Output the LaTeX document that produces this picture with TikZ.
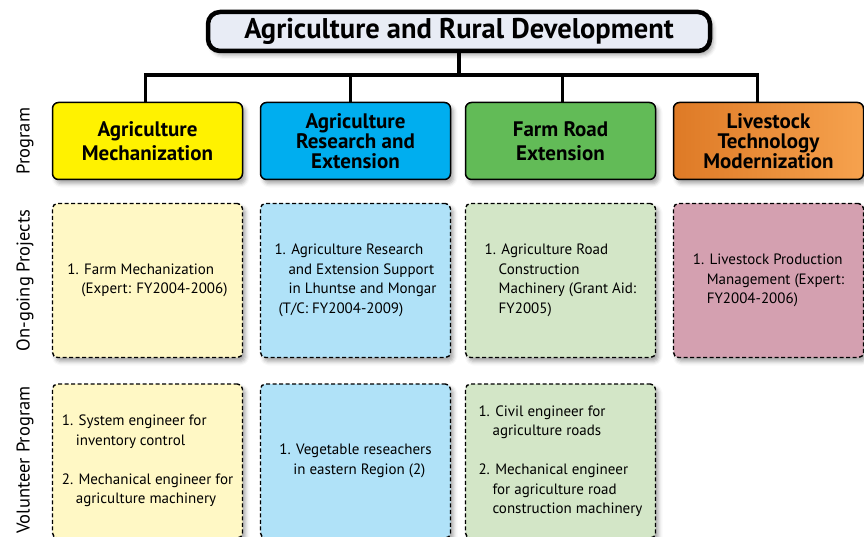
\documentclass[tikz,border=0pt]{standalone}
\usepackage{xcolor}
\usepackage{fontspec}
\setmainfont{PT Sans}
\usetikzlibrary{shadows.blur}

\definecolor{titlefill}{RGB}{232,236,245}
\definecolor{progyellow}{RGB}{255,242,0}
\definecolor{progblue}{RGB}{0,174,239}
\definecolor{proggreen}{RGB}{98,187,87}
\definecolor{progorangeA}{RGB}{222,122,38}
\definecolor{progorangeB}{RGB}{246,162,78}
\definecolor{paleyellow}{RGB}{255,248,197}
\definecolor{paleblue}{RGB}{176,226,248}
\definecolor{palegreen}{RGB}{211,230,199}
\definecolor{palepink}{RGB}{212,160,176}

\newcommand{\ind}{\hspace*{14pt}}

\begin{document}
\begin{tikzpicture}[x=1pt,y=-1pt,
		shade/.style={blur shadow={shadow xshift=3pt,shadow yshift=-4pt,shadow blur radius=4pt,shadow opacity=35}},
		head/.style={draw,line width=4.5pt,rounded corners=12pt,fill=titlefill,minimum width=502pt,minimum height=39pt,font=\bfseries\fontsize{28.5}{30}\selectfont,shade},
		prog/.style={draw,line width=1.5pt,rounded corners=6pt,minimum width=190pt,minimum height=77pt,align=center,font=\bfseries\fontsize{21}{20}\selectfont,shade},
		proj/.style={draw,dash pattern=on 4pt off 2.5pt,line width=1.4pt,rounded corners=5pt,minimum width=190pt,minimum height=154pt,align=left,font=\fontsize{15}{19.5}\selectfont,shade},
		rowlabel/.style={rotate=90,font=\fontsize{18.5}{20}\selectfont},
		link/.style={line width=3.5pt}]
		\useasboundingbox (0,0) rectangle (864,537);
		\node[head] (title) at (459,31.5) {Agriculture and Rural Development};
		\node[prog,fill=progyellow] (p1) at (147.5,141) {Agriculture\\[4pt]Mechanization};
		\node[prog,fill=progblue] (p2) at (355.5,141) {Agriculture\\Research and\\Extension};
		\node[prog,fill=proggreen] (p3) at (560.5,141) {Farm Road\\[4pt]Extension};
		\node[prog,left color=progorangeA,right color=progorangeB] (p4) at (768.5,141) {Livestock\\Technology\\Modernization};
		\foreach \p/\dx in {p1/-2,p2/-5,p3/2,p4/-11}
			\draw[link] (title.south) -- ++(0,22) -| ([xshift=\dx pt]\p.north);
		\node[proj,fill=paleyellow] (o1) at (147.5,280.5) {1. Farm Mechanization\\\ind(Expert: FY2004-2006)};
		\node[proj,fill=paleblue] (o2) at (355.5,280.5) {1. Agriculture Research\\\ind and Extension Support\\\ind in Lhuntse and Mongar\\\hspace*{4pt}(T/C: FY2004-2009)};
		\node[proj,fill=palegreen] (o3) at (560.5,280.5) {1. Agriculture Road\\\ind Construction\\\ind Machinery (Grant Aid:\\\ind FY2005)};
		\node[proj,fill=palepink] (o4) at (768.5,280.5) {1. Livestock Production\\\ind Management (Expert:\\\ind FY2004-2006)};
		\node[proj,fill=paleyellow] (v1) at (147.5,461) {1. System engineer for\\\ind inventory control\\[19.5pt]2. Mechanical engineer for\\\ind agriculture machinery};
		\node[proj,fill=paleblue] (v2) at (355.5,461) {1. Vegetable reseachers\\\ind in eastern Region (2)};
		\node[proj,fill=palegreen] (v3) at (560.5,461) {1. Civil engineer for\\\ind agriculture roads\\[19.5pt]2. Mechanical engineer\\\ind for agriculture road\\\ind construction machinery};
		\node[rowlabel] (lprog) at (25,141) {Program};
		\node[rowlabel] (lproj) at (25,280.5) {On-going Projects};
		\node[rowlabel] (lvol) at (25,460) {Volunteer Program};
		\end{tikzpicture}
\end{document}
